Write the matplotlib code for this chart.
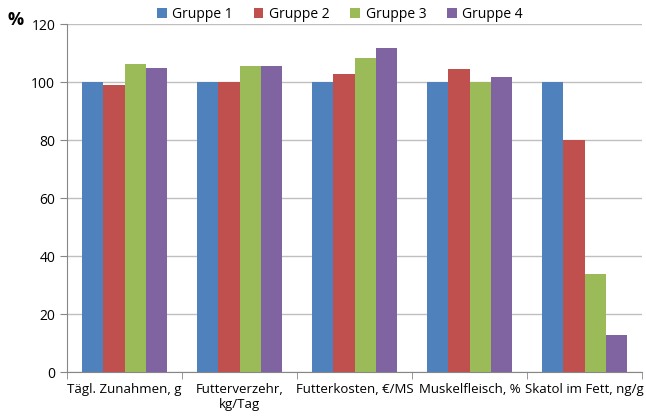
import matplotlib
matplotlib.use('Agg')
import matplotlib.pyplot as plt
import numpy as np

categories = ['Tägl. Zunahmen, g', 'Futterverzehr,\nkg/Tag', 'Futterkosten, €/MS',
              'Muskelfleisch, %', 'Skatol im Fett, ng/g']
gruppe1 = [100, 100, 100, 100, 100]
gruppe2 = [99, 100, 102.8, 104.5, 80]
gruppe3 = [106.2, 105.5, 108.2, 100, 33.8]
gruppe4 = [104.8, 105.5, 111.7, 101.6, 12.8]
series = [('Gruppe 1', gruppe1), ('Gruppe 2', gruppe2), ('Gruppe 3', gruppe3), ('Gruppe 4', gruppe4)]
colors = ['#4F81BD', '#C0504D', '#9BBB59', '#8064A2']

plt.rcParams['font.family'] = ['Open Sans', 'DejaVu Sans']

fig = plt.figure(figsize=(6.46, 4.18), dpi=100)
ax = fig.add_axes([67/646, 1 - 372/418, 575/646, 348/418])

x = np.arange(len(categories))
w = 0.183
for i, (name, vals) in enumerate(series):
    ax.bar(x + (i - 1.5) * w, vals, w, color=colors[i], label=name, zorder=3)

ax.set_xlim(-0.5, len(categories) - 0.5)
ax.set_ylim(0, 120)
ax.set_yticks(range(0, 121, 20))
ax.yaxis.grid(True, color='#BFBFBF', linewidth=1, zorder=0)
ax.set_xticks(x)
ax.set_xticklabels(categories, fontsize=9.5)
ax.set_xticks(np.arange(len(categories) + 1) - 0.5, minor=True)
ax.tick_params(axis='x', which='major', length=0, pad=8)
ax.tick_params(axis='x', which='minor', length=5, color='#868686')
ax.tick_params(axis='y', length=5, color='#868686', labelsize=10)
for s in ['top', 'right']:
    ax.spines[s].set_visible(False)
ax.spines['left'].set_color('#868686')
ax.spines['bottom'].set_color('#868686')

fig.text(8/646, 1 - 20/418, '%', fontsize=13, fontweight='bold', va='center', ha='left')
fig.legend(loc='center', bbox_to_anchor=(340/646, 1 - 14/418), ncol=4, frameon=False,
           fontsize=10, handlelength=0.7, handleheight=0.7, handletextpad=0.4, columnspacing=1.5)

fig.savefig('out.png', dpi=100)
